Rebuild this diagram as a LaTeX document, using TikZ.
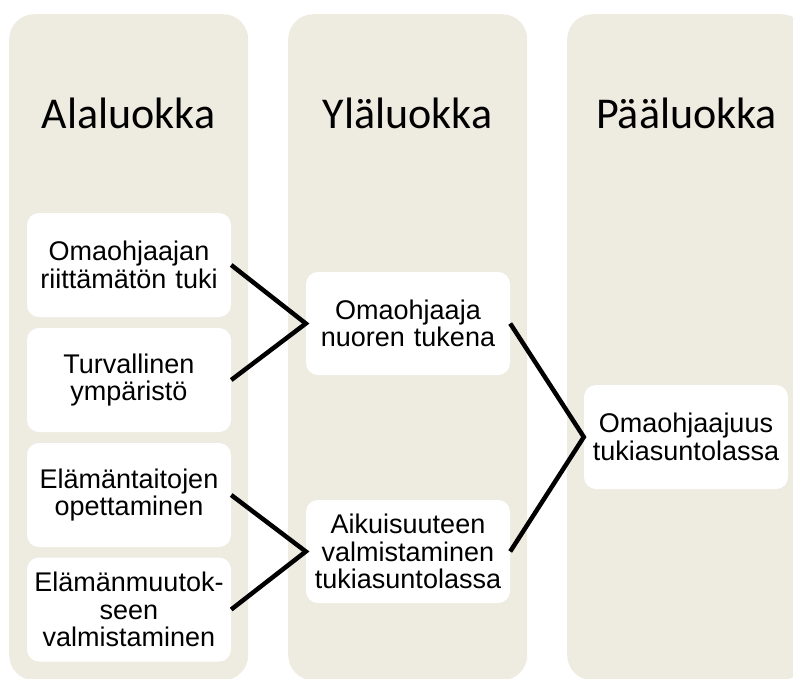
\documentclass[tikz,border=0pt]{standalone}
\usepackage{fontspec}
\setmainfont{Liberation Sans}
\newfontfamily\headfont{Carlito}
\definecolor{colbg}{HTML}{EEECE1}
\begin{document}
\begin{tikzpicture}[x=1pt,y=-1pt,
  column/.style={fill=colbg, rounded corners=25pt, draw=none, minimum width=239pt, minimum height=666pt, inner sep=0pt, anchor=north west},
  item/.style={fill=white, rounded corners=12pt, minimum width=204pt, minimum height=104pt, align=center, font=\fontsize{27}{27.6}\selectfont, inner sep=0pt, text width=204pt},
  head/.style={font=\headfont\fontsize{44}{50}\selectfont, anchor=base},
  link/.style={line width=4.5pt, black}]
\useasboundingbox (0,0) rectangle (793,678);
\clip (0,0) rectangle (793,678);
\node[column] (c1) at (9,14) {};
\node[column] (c2) at (288,14) {};
\node[column] (c3) at (567,14) {};
\node[head] (h1) at (128.5,128) {Alaluokka};
\node[head] (h2) at (407.5,128) {Yläluokka};
\node[head] (h3) at (686.5,128) {Pääluokka};
\node[item] (b1) at (129,265) {Omaohjaajan\\riittämätön tuki};
\node[item] (b2) at (129,380) {Turvallinen\\ympäristö};
\node[item] (b3) at (129,495) {Elämäntaitojen\\opettaminen};
\node[item] (b4) at (129,609.5) {Elämänmuutok-\\seen\\valmistaminen};
\node[item, minimum height=103pt] (a1) at (408,323.5) {Omaohjaaja\\nuoren tukena};
\node[item, minimum height=103pt] (a2) at (408,551.5) {Aikuisuuteen\\valmistaminen\\tukiasuntolassa};
\node[item] (p1) at (686,437) {Omaohjaajuus\\tukiasuntolassa};
\draw[link] (b1.east) -- (a1.west) -- (b2.east);
\draw[link] (b3.east) -- (a2.west) -- (b4.east);
\draw[link] (a1.east) -- (p1.west) -- (a2.east);
\end{tikzpicture}
\end{document}
